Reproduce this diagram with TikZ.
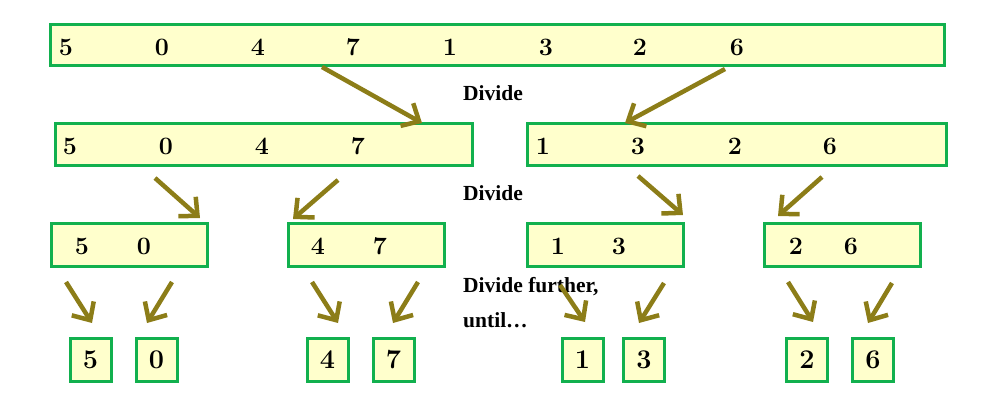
\documentclass[tikz,border=0pt]{standalone}
\usepackage{fontspec}
\newfontfamily\labfont{Liberation Serif}
\usetikzlibrary{arrows.meta}
\definecolor{boxgreen}{HTML}{12B04E}
\definecolor{boxfill}{HTML}{FFFFCC}
\definecolor{olive}{HTML}{8C7D18}
\tikzset{
  box/.style={draw=boxgreen, line width=3pt, fill=boxfill, rectangle, inner sep=0pt},
  dig/.style={font=\fontsize{25}{25}\selectfont\bfseries, inner sep=0pt},
  sdig/.style={font=\fontsize{27}{27}\selectfont\bfseries, inner sep=0pt},
  lab/.style={font=\labfont\fontsize{21.5}{21.5}\selectfont\bfseries, anchor=west, inner sep=0pt},
  arr/.style={draw=olive, line width=4.5pt, -{Straight Barb[length=14pt,width=26pt,line width=4.5pt]}}
}
\begin{document}
\begin{tikzpicture}[x=1pt,y=-1pt]
\useasboundingbox (0,0) rectangle (1003,419);
% top
\node[box, minimum width=894, minimum height=41] (top) at (497,45.5) {};
\foreach \d/\x [count=\i] in {5/66,0/162,4/258,7/353,1/450,3/546,2/640,6/737}
  \node[dig] (t\i) at (\x,47) {\d};
% level 2
\node[box, minimum width=417, minimum height=42] (L) at (263.5,145) {};
\node[box, minimum width=419, minimum height=42] (R) at (736.5,145) {};
\foreach \d/\x [count=\i] in {5/70,0/166,4/262,7/358}
  \node[dig] (l\i) at (\x,146) {\d};
\foreach \d/\x [count=\i] in {1/543,3/638,2/735,6/830}
  \node[dig] (r\i) at (\x,146) {\d};
% level 3
\foreach \c/\a/\b/\xa/\xb [count=\i] in {129/5/0/82/144, 366/4/7/318/380, 605/1/3/558/619, 842/2/6/796/851}{
  \node[box, minimum width=156, minimum height=43] (m\i) at (\c,245.5) {};
  \node[dig] (m\i a) at (\xa,246) {\a};
  \node[dig] (m\i b) at (\xb,246) {\b};
}
% level 4
\foreach \c/\d [count=\i] in {90.5/5,156.5/0,327.5/4,393.5/7,582.5/1,644/3,807/2,873/6}{
  \node[box, minimum width=41, minimum height=43] (s\i) at (\c,359.5) {};
  \node[sdig] (s\i d) at (\c,360) {\d};
}
% labels
\node[lab] (d1) at (463,93) {Divide};
\node[lab] (d2) at (463,193) {Divide};
\node[lab] (d3) at (463,287) {Divide further,};
\node[lab] (d4) at (463,320) {until\ldots};
% arrows
\coordinate (a1s) at (322,67);  \coordinate (a1e) at (422,123);
\coordinate (a2s) at (725,69);  \coordinate (a2e) at (625,123);
\draw[arr] (a1s) -- (a1e);
\draw[arr] (a2s) -- (a2e);
\coordinate (b1s) at (155,178); \coordinate (b1e) at (200,218);
\coordinate (b2s) at (338,180); \coordinate (b2e) at (293,219);
\coordinate (b3s) at (638,176); \coordinate (b3e) at (683,215);
\coordinate (b4s) at (822,177); \coordinate (b4e) at (778,216);
\foreach \i in {1,...,4} \draw[arr] (b\i s) -- (b\i e);
\coordinate (c1s) at (66,282);  \coordinate (c1e) at (92,323);
\coordinate (c2s) at (172,282); \coordinate (c2e) at (147,323);
\coordinate (c3s) at (312,282); \coordinate (c3e) at (338,323);
\coordinate (c4s) at (418,282); \coordinate (c4e) at (393,323);
\coordinate (c5s) at (560,285); \coordinate (c5e) at (585,322);
\coordinate (c6s) at (664,283); \coordinate (c6e) at (639,323);
\coordinate (c7s) at (788,282); \coordinate (c7e) at (813,322);
\coordinate (c8s) at (892,283); \coordinate (c8e) at (868,323);
\foreach \i in {1,...,8} \draw[arr] (c\i s) -- (c\i e);
\end{tikzpicture}
\end{document}
